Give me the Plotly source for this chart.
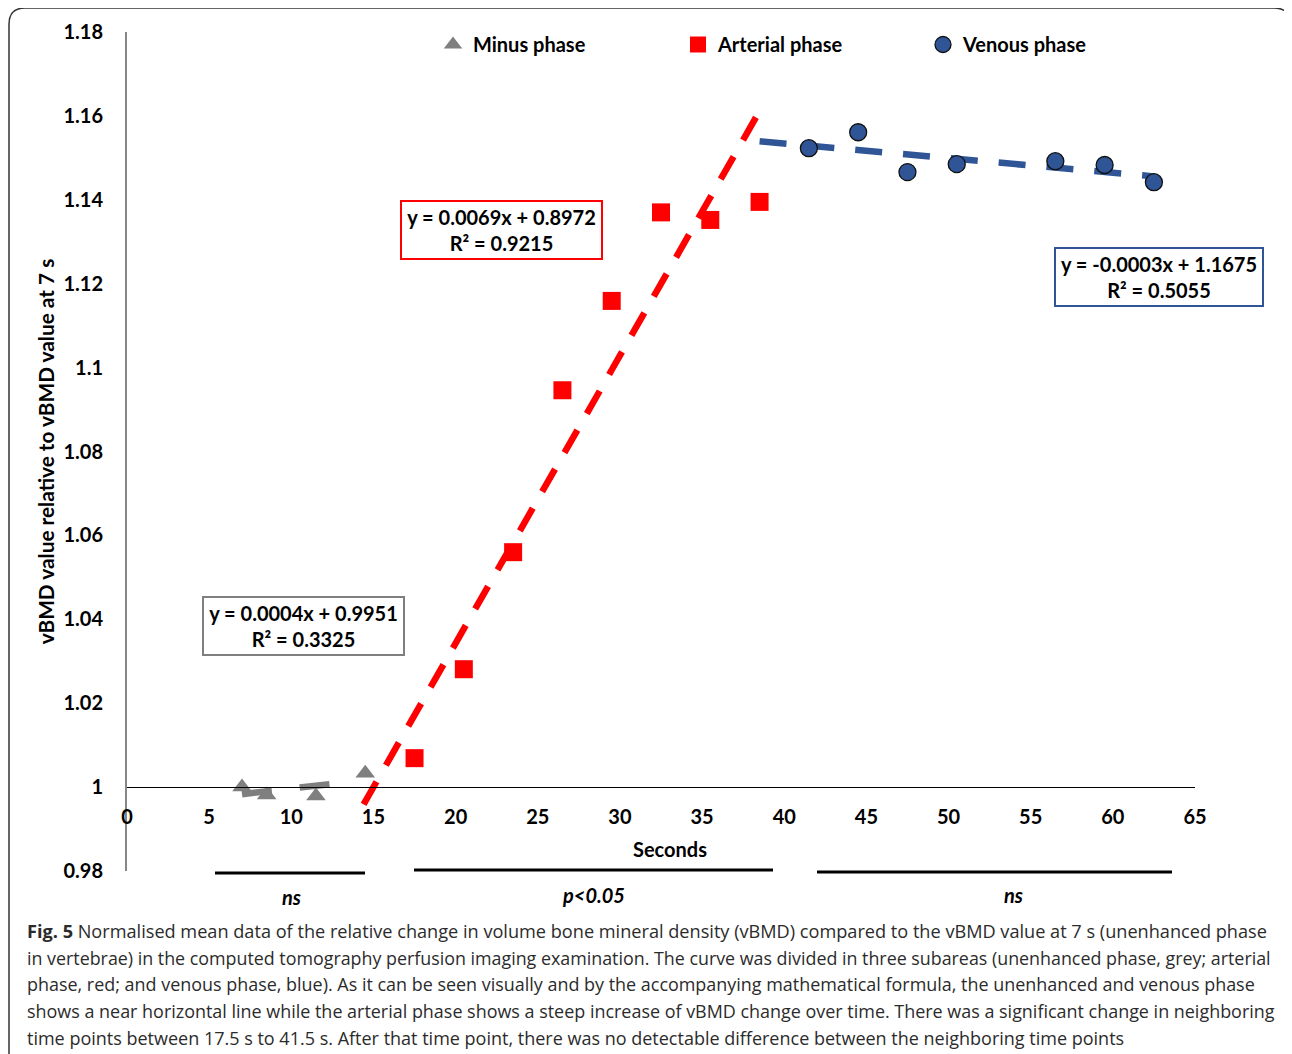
import numpy as np
import plotly.graph_objects as go

# ---------------- data ----------------
minus_x = [7, 8.5, 11.5, 14.5]
minus_y = [1.0000, 0.9981, 0.9979, 1.0033]

arterial_x = [17.5, 20.5, 23.5, 26.5, 29.5, 32.5, 35.5, 38.5]
arterial_y = [1.0069, 1.0281, 1.0560, 1.0946, 1.1159, 1.1370, 1.1352, 1.1395]

venous_x = [41.5, 44.5, 47.5, 50.5, 56.5, 59.5, 62.5]
venous_y = [1.1523, 1.1561, 1.1466, 1.1485, 1.1492, 1.1483, 1.1442]

series_names = ["Minus phase", "Arterial phase", "Venous phase"]
equations = ["y = 0.0004x + 0.9951<br>R² = 0.3325",
             "y = 0.0069x + 0.8972<br>R² = 0.9215",
             "y = -0.0003x + 1.1675<br>R² = 0.5055"]

# trendline extents (seconds)
trend_ranges = [(7.0, 12.6), (14.4, 38.6), (38.5, 62.5)]

y_ticks = [0.98, 1.0, 1.02, 1.04, 1.06, 1.08, 1.1, 1.12, 1.14, 1.16, 1.18]
y_ticktext = ["0.98", "1", "1.02", "1.04", "1.06", "1.08", "1.1", "1.12", "1.14", "1.16", "1.18"]
x_ticks = list(range(0, 70, 5))

sig_labels = ["ns", "p<0.05", "ns"]

caption_lines = [
    "<b>Fig. 5</b> Normalised mean data of the relative change in volume bone mineral density (vBMD) compared to the vBMD value at 7 s (unenhanced phase",
    "in vertebrae) in the computed tomography perfusion imaging examination. The curve was divided in three subareas (unenhanced phase, grey; arterial",
    "phase, red; and venous phase, blue). As it can be seen visually and by the accompanying mathematical formula, the unenhanced and venous phase",
    "shows a near horizontal line while the arterial phase shows a steep increase of vBMD change over time. There was a significant change in neighboring",
    "time points between 17.5 s to 41.5 s. After that time point, there was no detectable difference between the neighboring time points",
]

# ---------------- styling ----------------
GREY = "#7f7f7f"
RED = "#ff0000"
BLUE = "#2f5597"
FONT = "Lato"
caption_sizes = [18.15, 17.85, 17.95, 17.95, 18.0]

OFF = 8  # page body margin
W, H = 1292 - OFF, 1054 - OFF
ML, MT = 127 - OFF, 32 - OFF
PLOT_R, PLOT_B = 1195 - OFF, 871 - OFF
MR, MB = W - PLOT_R, H - PLOT_B
PW, PH = PLOT_R - ML, PLOT_B - MT


def px2paper_x(px):  # page pixel -> paper
    return (px - OFF - ML) / PW


def px2paper_y(py):
    return (PLOT_B - (py - OFF)) / PH


fig = go.Figure()

colors = [GREY, RED, BLUE]
symbols = ["triangle-up", "square", "circle"]
sizes = [17, 18, 17]
xs = [minus_x, arterial_x, venous_x]
ys = [minus_y, arterial_y, venous_y]
dashes = ["30px,28px", "26px,19px", "27px,21px"]

# trend lines
for i in range(3):
    k, b = np.polyfit(xs[i], ys[i], 1)
    x0, x1 = trend_ranges[i]
    lx = np.array([x0, x1])
    fig.add_trace(go.Scatter(
        x=lx, y=k * lx + b, mode="lines", showlegend=False, hoverinfo="skip",
        line=dict(color=colors[i], width=6.5, dash=dashes[i]),
    ))

# points
for i in range(3):
    fig.add_trace(go.Scatter(
        x=xs[i], y=ys[i], mode="markers", name=series_names[i],
        marker=dict(symbol=symbols[i], size=sizes[i], color=colors[i],
                    line=dict(color="#111111" if i == 2 else colors[i], width=1.3 if i == 2 else 0)),
    ))

# equation boxes
box_centers = [(10.74, 1.0384), (22.8, 1.1328), (62.8, 1.1216)]
box_widths = [197, 197, 204]
for i in range(3):
    fig.add_annotation(
        x=box_centers[i][0], y=box_centers[i][1], xref="x", yref="y",
        xanchor="center", yanchor="middle",
        text="<b>" + equations[i] + "</b>", showarrow=False,
        font=dict(family=FONT, size=20, color="black"),
        bordercolor=colors[i], borderwidth=2, bgcolor="white",
        width=box_widths[i], height=54, align="center",
    )

# significance bars
sig_bars = [(215, 365, 873), (414, 773, 870), (817, 1172, 872)]
sig_text_pos = [(291, 897), (593, 895), (1013, 895)]
for i in range(3):
    x0, x1, yy = sig_bars[i]
    fig.add_shape(type="line", xref="paper", yref="paper",
                  x0=px2paper_x(x0), x1=px2paper_x(x1),
                  y0=px2paper_y(yy), y1=px2paper_y(yy),
                  line=dict(color="black", width=3))
    tx, ty = sig_text_pos[i]
    fig.add_annotation(x=px2paper_x(tx), y=px2paper_y(ty), xref="paper", yref="paper",
                       xanchor="center", yanchor="middle",
                       text="<b><i>" + sig_labels[i] + "</i></b>", showarrow=False,
                       font=dict(family=FONT, size=20, color="black"))

# Seconds title
fig.add_annotation(x=px2paper_x(670), y=px2paper_y(849), xref="paper", yref="paper",
                   xanchor="center", yanchor="middle",
                   text="<b>Seconds</b>", showarrow=False,
                   font=dict(family=FONT, size=20, color="black"))

# caption
for j, line in enumerate(caption_lines):
    fig.add_annotation(x=px2paper_x(25), y=px2paper_y(931 + j * 26.7), xref="paper", yref="paper",
                       xanchor="left", yanchor="middle", text=line, showarrow=False,
                       font=dict(family="Open Sans", size=caption_sizes[j], color="#2b2b2b"))

# rounded frame
r = 16
fx0, fx1, fy0, fy1 = 9, 1290, 8, 1090
def P(px, py):
    return f"{px2paper_x(px):.5f},{px2paper_y(py):.5f}"
path = (f"M {P(fx0, fy1)} L {P(fx0, fy0 + r)} Q {P(fx0, fy0)} {P(fx0 + r, fy0)} "
        f"L {P(fx1 - r, fy0)} Q {P(fx1, fy0)} {P(fx1, fy0 + r)} L {P(fx1, fy1)}")
fig.add_shape(type="path", xref="paper", yref="paper", path=path,
              line=dict(color="#333333", width=1.5))

fig.update_layout(
    width=W, height=H,
    margin=dict(l=ML, r=MR, t=MT, b=MB),
    paper_bgcolor="white", plot_bgcolor="white",
    font=dict(family=FONT, size=19, color="black"),
    showlegend=True,
    legend=dict(orientation="h", x=px2paper_x(433), y=px2paper_y(25), xanchor="left", yanchor="top",
                font=dict(family=FONT, size=20, color="black", weight="bold"),
                entrywidth=200, entrywidthmode="pixels",
                bgcolor="rgba(0,0,0,0)", tracegroupgap=0),
    xaxis=dict(range=[0, 65], tickvals=x_ticks, anchor="free", position=0.1,
               showline=True, linecolor="black", linewidth=1, showgrid=False, zeroline=False,
               ticks="outside", ticklen=12, tickcolor="rgba(0,0,0,0)",
               tickfont=dict(family=FONT, size=20, color="black", weight="bold")),
    yaxis=dict(range=[0.98, 1.18], tickvals=y_ticks, ticktext=y_ticktext,
               showline=True, linecolor="#868686", linewidth=2, showgrid=False, zeroline=False,
               ticks="outside", ticklen=18, tickcolor="rgba(0,0,0,0)",
               tickfont=dict(family=FONT, size=20, color="black", weight="bold"),
               title=dict(text="vBMD value relative to vBMD value at 7 s", standoff=3,
                          font=dict(family=FONT, size=20.8, color="black", weight="bold"))),
)

fig.write_html("out.html")
